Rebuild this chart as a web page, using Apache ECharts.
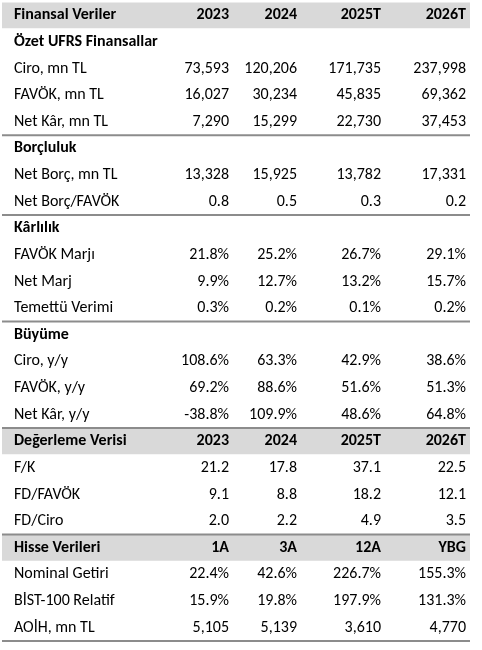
<!DOCTYPE html>
<html>
<head>
<meta charset="utf-8">
<script src="https://cdn.jsdelivr.net/npm/echarts@6/dist/echarts.min.js"></script>
<style>html,body{margin:0;padding:0;background:#fff}#c{width:482px;height:650px}</style>
</head>
<body>
<div id="c"></div>
<script>
// satir etiketleri (tablo yukaridan asagi)
var rowLabels = ['Finansal Veriler', 'Özet UFRS Finansallar', 'Ciro, mn TL', 'FAVÖK, mn TL', 'Net Kâr, mn TL',
    'Borçluluk', 'Net Borç, mn TL', 'Net Borç/FAVÖK', 'Kârlılık', 'FAVÖK Marjı', 'Net Marj', 'Temettü Verimi',
    'Büyüme', 'Ciro, y/y', 'FAVÖK, y/y', 'Net Kâr, y/y', 'Değerleme Verisi', 'F/K', 'FD/FAVÖK', 'FD/Ciro',
    'Hisse Verileri', 'Nominal Getiri', 'BİST-100 Relatif', 'AOİH, mn TL'];
// tip: g = gri baslik, s = bolum basligi, v = deger
var rowTypes = ['g', 's', 'v', 'v', 'v', 's', 'v', 'v', 's', 'v', 'v', 'v',
    's', 'v', 'v', 'v', 'g', 'v', 'v', 'v', 'g', 'v', 'v', 'v'];
var col2023 = ['2023', '', '73,593', '16,027', '7,290', '', '13,328', '0.8', '', '21.8%', '9.9%', '0.3%',
    '', '108.6%', '69.2%', '-38.8%', '2023', '21.2', '9.1', '2.0', '1A', '22.4%', '15.9%', '5,105'];
var col2024 = ['2024', '', '120,206', '30,234', '15,299', '', '15,925', '0.5', '', '25.2%', '12.7%', '0.2%',
    '', '63.3%', '88.6%', '109.9%', '2024', '17.8', '8.8', '2.2', '3A', '42.6%', '19.8%', '5,139'];
var col2025 = ['2025T', '', '171,735', '45,835', '22,730', '', '13,782', '0.3', '', '26.7%', '13.2%', '0.1%',
    '', '42.9%', '51.6%', '48.6%', '2025T', '37.1', '18.2', '4.9', '12A', '226.7%', '197.9%', '3,610'];
var col2026 = ['2026T', '', '237,998', '69,362', '37,453', '', '17,331', '0.2', '', '29.1%', '15.7%', '0.2%',
    '', '38.6%', '51.3%', '64.8%', '2026T', '22.5', '12.1', '3.5', 'YBG', '155.3%', '131.3%', '4,770'];
// alt cizgi olan satirlar
var lineRows = [4, 7, 11, 15, 19, 23];

var FONT = 'Carlito, "Liberation Sans Narrow", "Open Sans", sans-serif';
var colRight = [229, 297, 381, 466];
var cols = [col2023, col2024, col2025, col2026];

var cells = [];
rowLabels.forEach(function (lab, i) {
    cells.push([14, i, lab, 'left', rowTypes[i] !== 'v']);
    cols.forEach(function (c, j) {
        if (c[i]) {
            cells.push([colRight[j], i, c[i], 'right', rowTypes[i] === 'g']);
        }
    });
});
var bands = [];
rowTypes.forEach(function (t, i) { if (t === 'g') bands.push([i]); });

var chart = echarts.init(document.getElementById('c'));
chart.setOption({
    animation: false,
    grid: { left: 0, right: 0, top: 2, bottom: 9 },
    xAxis: { type: 'value', min: 0, max: 482, show: false },
    yAxis: { type: 'category', data: rowLabels, inverse: true, show: false },
    series: [{
        type: 'custom',
        data: bands,
        encode: { y: 0 },
        renderItem: function (params, api) {
            var y = api.coord([0, api.value(0)])[1];
            var h = api.size([0, 1])[1];
            var x0 = api.coord([2, 0])[0], x1 = api.coord([470, 0])[0];
            return { type: 'rect', shape: { x: x0, y: y - h / 2 + 0.5, width: x1 - x0, height: h - 1 }, style: { fill: '#d9d9d9' } };
        }
    }, {
        type: 'custom',
        data: lineRows.map(function (r) { return [r]; }),
        encode: { y: 0 },
        renderItem: function (params, api) {
            var y = api.coord([0, api.value(0)])[1] + api.size([0, 1])[1] / 2;
            var x0 = api.coord([2, 0])[0], x1 = api.coord([470, 0])[0];
            return { type: 'line', shape: { x1: x0, y1: y, x2: x1, y2: y }, style: { stroke: '#8c8c8c', lineWidth: 2 } };
        }
    }, {
        type: 'custom',
        data: cells,
        encode: { x: 0, y: 1 },
        renderItem: function (params, api) {
            var d = cells[params.dataIndex];
            var p = api.coord([d[0], d[1]]);
            return {
                type: 'text',
                style: {
                    x: p[0], y: p[1], text: d[2], align: d[3], verticalAlign: 'middle',
                    fill: '#000', font: (d[4] ? 'bold ' : '') + '16px ' + FONT
                }
            };
        }
    }]
});
</script>
</body>
</html>
